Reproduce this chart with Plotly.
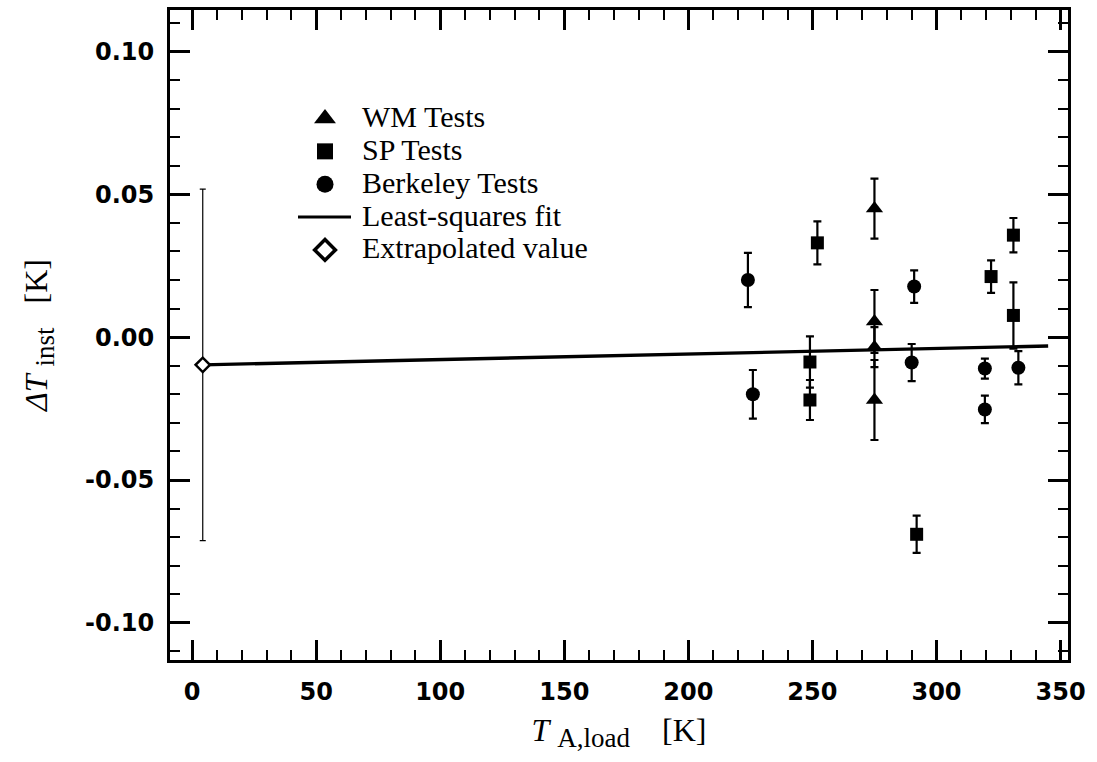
import plotly.graph_objects as go

# ---- data ----
wm_x = [275, 275, 275, 275]
wm_y = [0.045, 0.0055, -0.0035, -0.022]
wm_err = [0.0105, 0.011, 0.007, 0.014]

sp_x = [249, 249, 252, 292, 322, 331, 331]
sp_y = [-0.0087, -0.022, 0.033, -0.069, 0.0212, 0.0357, 0.0076]
sp_err = [0.009, 0.007, 0.0075, 0.0065, 0.0057, 0.006, 0.0116]

bk_x = [224, 226, 291, 290, 319.5, 319.5, 333]
bk_y = [0.020, -0.020, 0.0177, -0.0089, -0.011, -0.0253, -0.0107]
bk_err = [0.0095, 0.0085, 0.0057, 0.0065, 0.0035, 0.0048, 0.0058]

fit_x = [4.3, 345]
fit_y = [-0.0097, -0.0031]

ext_x = [4.3]
ext_y = [-0.0097]
ext_err = [0.0615]

y_tickvals = [-0.10, -0.05, 0.0, 0.05, 0.10]
y_ticktext = ["-0.10", "-0.05", "0.00", "0.05", "0.10"]
x_tickvals = [0, 50, 100, 150, 200, 250, 300, 350]
x_ticktext = ["0", "50", "100", "150", "200", "250", "300", "350"]

legend_names = ["WM Tests", "SP Tests", "Berkeley Tests",
                "Least-squares fit", "Extrapolated value"]

serif = "Liberation Serif, Times New Roman, serif"
sans = "DejaVu Sans, Arial, sans-serif"

W, H = 1097, 762
ML, MR, MT, MB = 170, 29, 7, 102

def ebar(err, thick=2.2, w=4):
    return dict(type="data", array=err, visible=True, color="black",
                thickness=thick, width=w)

fig = go.Figure()

fig.add_trace(go.Scatter(
    x=fit_x, y=fit_y, mode="lines", name=legend_names[3],
    line=dict(color="black", width=3.4), showlegend=False))

fig.add_trace(go.Scatter(
    x=wm_x, y=wm_y, mode="markers", name=legend_names[0],
    marker=dict(symbol="triangle-up", size=15, color="black"),
    error_y=ebar(wm_err), showlegend=False))

fig.add_trace(go.Scatter(
    x=sp_x, y=sp_y, mode="markers", name=legend_names[1],
    marker=dict(symbol="square", size=13, color="black"),
    error_y=ebar(sp_err), showlegend=False))

fig.add_trace(go.Scatter(
    x=bk_x, y=bk_y, mode="markers", name=legend_names[2],
    marker=dict(symbol="circle", size=14, color="black"),
    error_y=ebar(bk_err), showlegend=False))

fig.add_trace(go.Scatter(
    x=ext_x, y=ext_y, mode="markers", name=legend_names[4],
    marker=dict(symbol="diamond", size=11, color="white",
                line=dict(color="black", width=2.5)),
    error_y=ebar(ext_err, thick=1.2, w=3), showlegend=False))

# ---- hand-drawn legend on an overlay axis measured in pixels ----
leg_sym_x = 325
leg_txt_x = 361
leg_rows = [116, 149, 182, 215, 248]
sym_styles = [
    dict(symbol="triangle-up", size=19, color="black"),
    dict(symbol="square", size=16, color="black"),
    dict(symbol="circle", size=17, color="black"),
    None,
    dict(symbol="diamond", size=16, color="white", line=dict(color="black", width=3.5)),
]
for i, st in enumerate(sym_styles):
    if st is None:
        fig.add_trace(go.Scatter(x=[298, 351], y=[leg_rows[i]] * 2, mode="lines",
                                 line=dict(color="black", width=3),
                                 xaxis="x2", yaxis="y2", showlegend=False,
                                 hoverinfo="skip"))
    else:
        fig.add_trace(go.Scatter(x=[leg_sym_x], y=[leg_rows[i]], mode="markers",
                                 marker=st, xaxis="x2", yaxis="y2",
                                 showlegend=False, hoverinfo="skip"))
    fig.add_annotation(x=leg_txt_x, y=leg_rows[i] - 2, xref="x2", yref="y2",
                       text=legend_names[i], showarrow=False,
                       xanchor="left", yanchor="middle", borderpad=0,
                       font=dict(family=serif, size=30, color="black"))

def axis_common():
    return dict(
        showline=True, linecolor="black", linewidth=3, mirror="allticks",
        ticks="inside", ticklen=20, tickwidth=2.5, tickcolor="black",
        showgrid=False, zeroline=False,
        tickfont=dict(family=sans, size=24, color="black", weight="bold"),
        ticklabelstandoff=8,
    )

xaxis = dict(
    range=[-8.9, 353], tickvals=x_tickvals, ticktext=x_ticktext,
    minor=dict(dtick=10, ticks="inside", ticklen=10, tickwidth=2, tickcolor="black"),
    title=dict(text="<i>T</i> <sub><span style='font-size:27px'>A,load</span></sub>&nbsp;&nbsp;&nbsp;&nbsp;[K]",
               font=dict(family=serif, size=32, color="black"), standoff=14),
    **axis_common())

yaxis = dict(
    range=[-0.113, 0.1145], tickvals=y_tickvals, ticktext=y_ticktext,
    minor=dict(dtick=0.01, ticks="inside", ticklen=10, tickwidth=2, tickcolor="black"),
    title=dict(text="<i>ΔT</i> <sub><span style='font-size:27px'>inst</span></sub>&nbsp;&nbsp;&nbsp;[K]",
               font=dict(family=serif, size=32, color="black"), standoff=28),
    **axis_common())

fig.update_layout(
    width=W, height=H,
    margin=dict(l=ML, r=MR, t=MT, b=MB),
    paper_bgcolor="white", plot_bgcolor="white",
    showlegend=False,
    xaxis=xaxis, yaxis=yaxis,
    xaxis2=dict(overlaying="x", range=[ML, W - MR], visible=False, anchor="y2"),
    yaxis2=dict(overlaying="y", range=[H - MB, MT], visible=False, anchor="x2"),
)

fig.write_html("out.html")
